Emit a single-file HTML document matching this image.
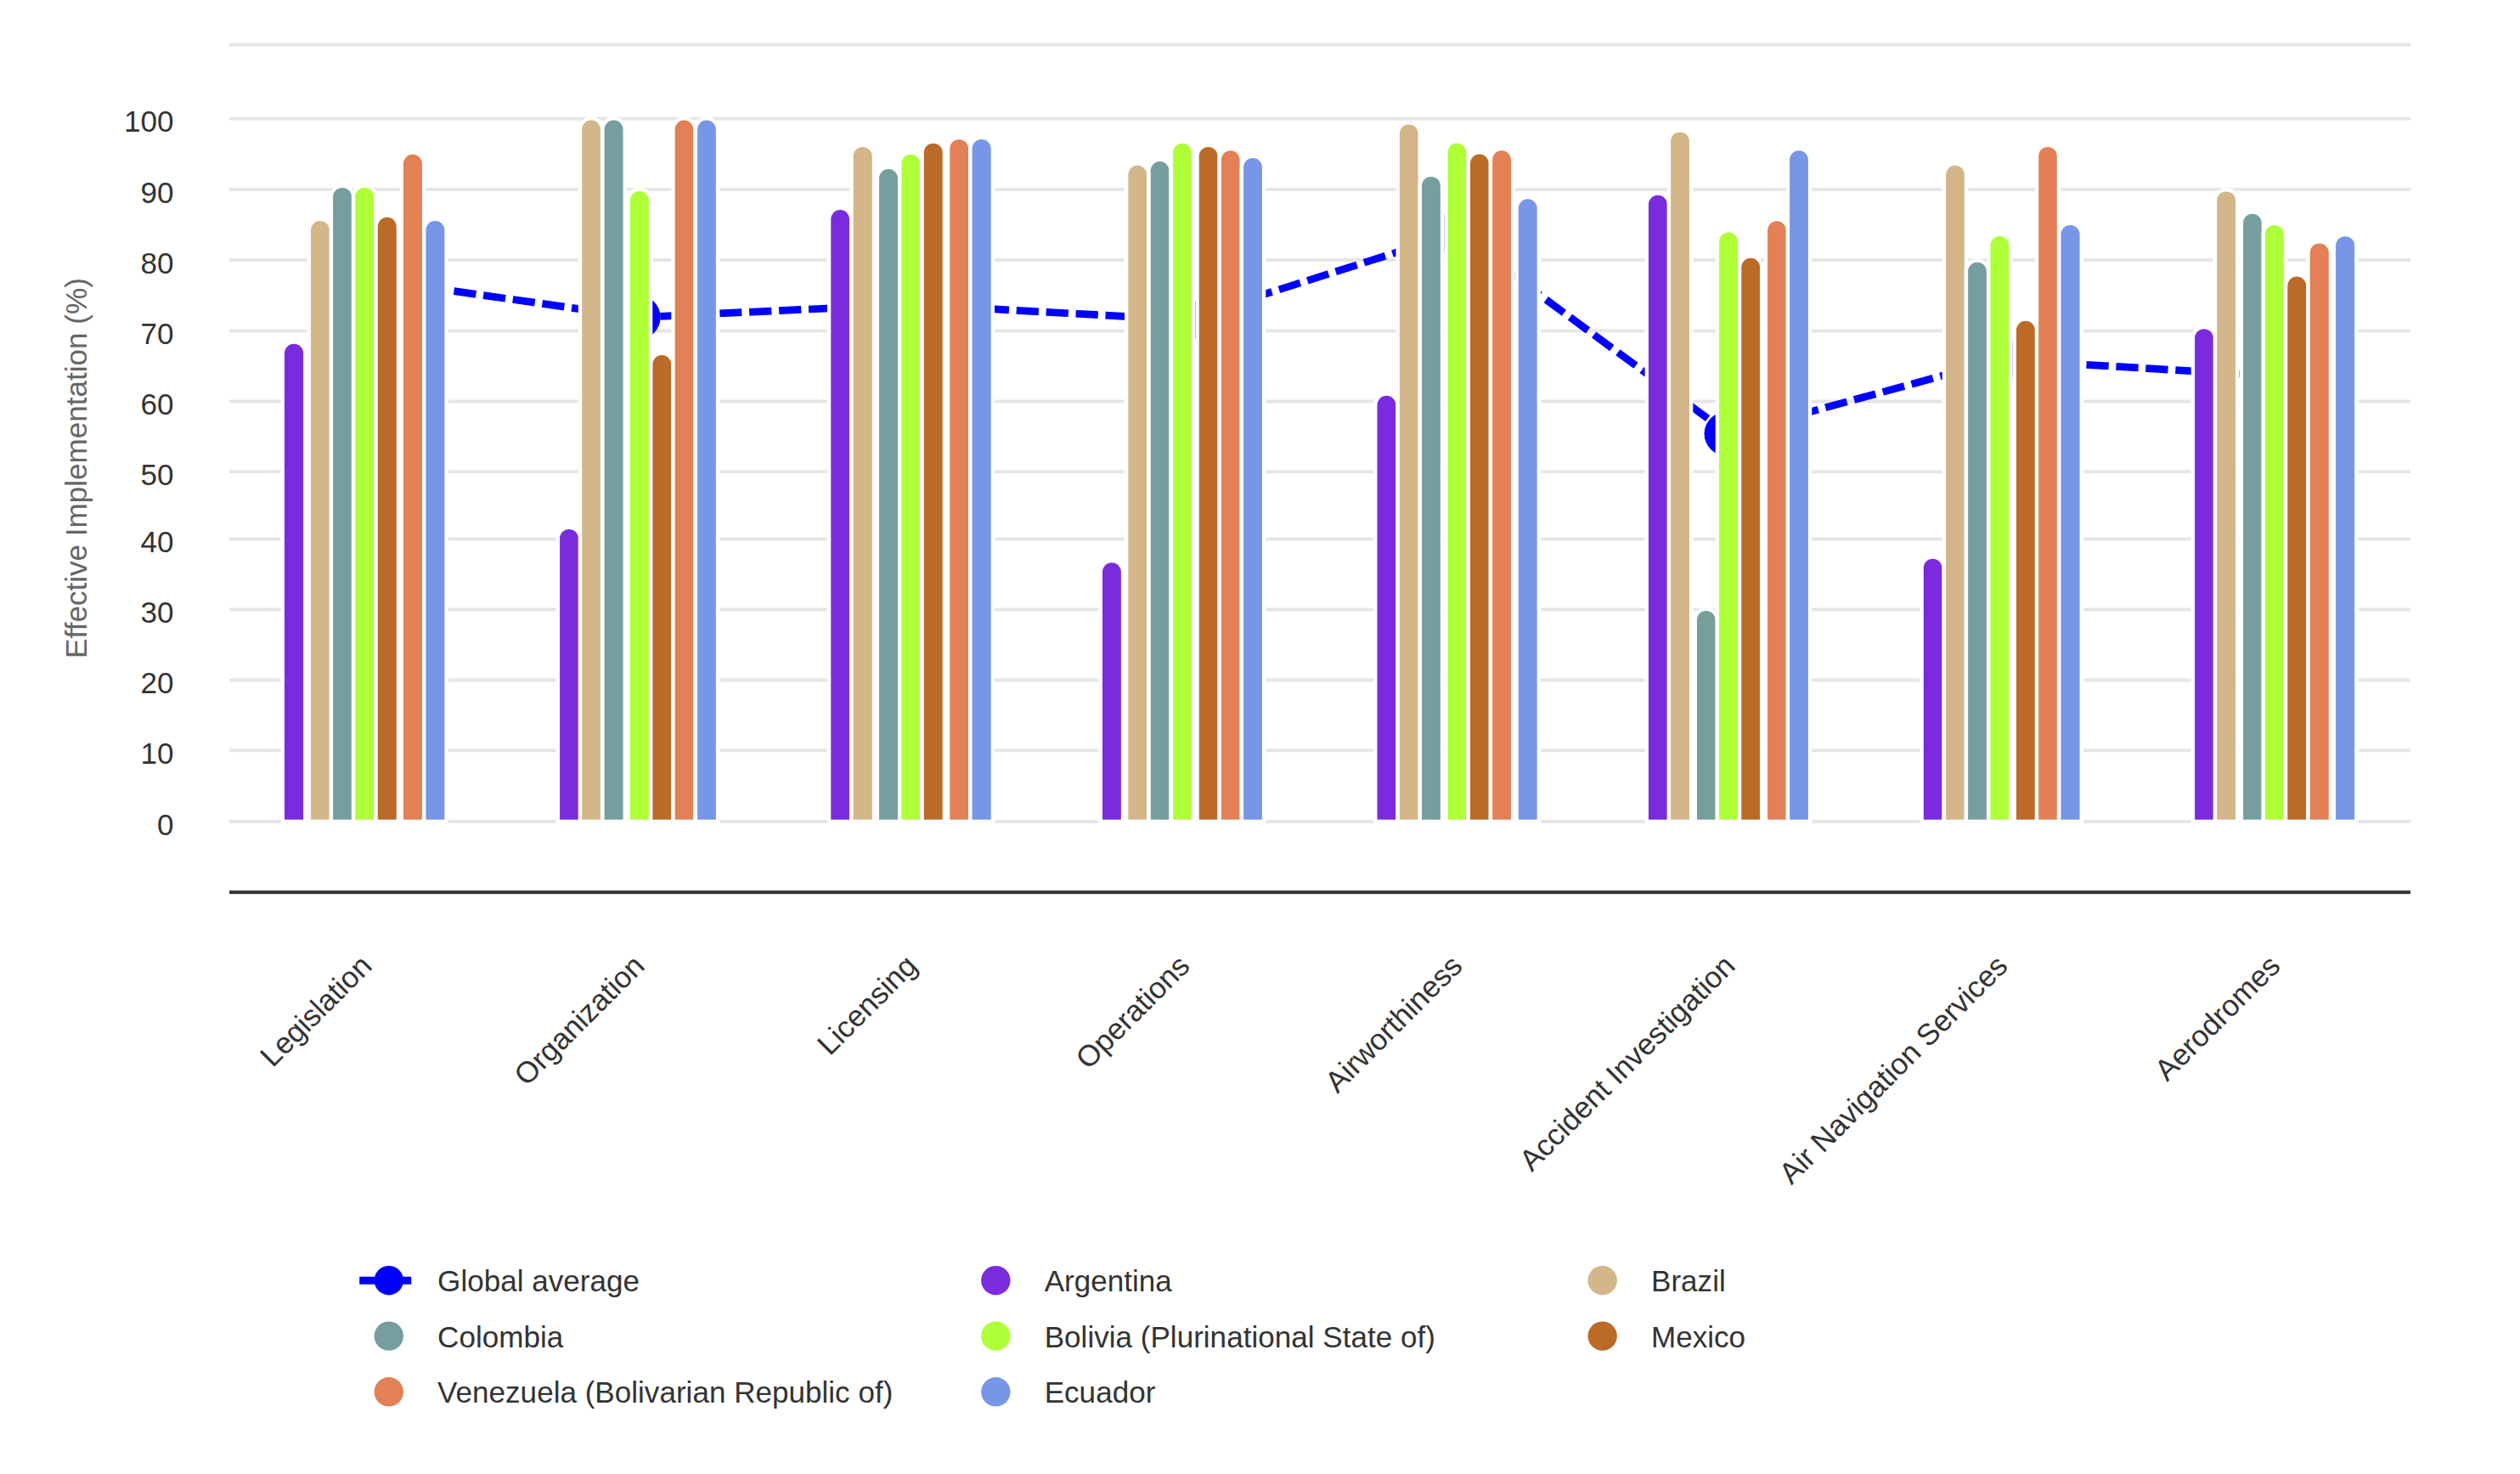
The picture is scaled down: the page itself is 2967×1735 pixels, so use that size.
<!DOCTYPE html><html><head><meta charset="utf-8"><style>html,body{margin:0;padding:0;background:#fff;}svg{display:block;}text{font-family:"Liberation Sans", sans-serif;}</style></head><body>
<svg width="2967" height="1735" viewBox="0 0 2967 1735">
<rect x="0" y="0" width="2967" height="1735" fill="#ffffff"/>
<path d="M270 52.4 H2838 M270 139.7 H2838 M270 223.1 H2838 M270 306.1 H2838 M270 389.5 H2838 M270 472.5 H2838 M270 555.3 H2838 M270 634.5 H2838 M270 717.5 H2838 M270 800.4 H2838 M270 883.3 H2838 M270 966.9 H2838" stroke="#e6e6e6" stroke-width="4" fill="none"/>
<path d="M270 1050.3 H2838" stroke="#333333" stroke-width="4" fill="none"/>
<path d="M430.5 327.9 L751.5 373.5 L1072.5 358.3 L1393.5 376.4 L1714.5 274.9 L2035.5 510.8 L2356.5 423.3 L2677.5 442.6" stroke="#0000ff" stroke-width="8.75" stroke-dasharray="26.25 8.75" fill="none" stroke-linecap="butt" stroke-linejoin="round"/>
<circle cx="430.5" cy="327.9" r="26.1" fill="#0000ff"/>
<circle cx="751.5" cy="373.5" r="26.1" fill="#0000ff"/>
<circle cx="1072.5" cy="358.3" r="26.1" fill="#0000ff"/>
<circle cx="1393.5" cy="376.4" r="26.1" fill="#0000ff"/>
<circle cx="1714.5" cy="274.9" r="26.1" fill="#0000ff"/>
<circle cx="2032.7" cy="510.6" r="26.1" fill="#0000ff"/>
<circle cx="2356.5" cy="423.3" r="26.1" fill="#0000ff"/>
<circle cx="2677.5" cy="442.6" r="26.1" fill="#0000ff"/>
<path d="M330.6 969.2 L330.6 415.85 A15.45 15.45 0 0 1 361.5 415.85 L361.5 969.2 Z" fill="#ffffff"/>
<path d="M335 964.8 L335 415.85 A11.05 11.05 0 0 1 357.1 415.85 L357.1 964.8 Z" fill="#7A2BDE"/>
<path d="M654.7 969.2 L654.7 633.8 A15.3 15.3 0 0 1 685.3 633.8 L685.3 969.2 Z" fill="#ffffff"/>
<path d="M659.1 964.8 L659.1 633.8 A10.9 10.9 0 0 1 680.9 633.8 L680.9 964.8 Z" fill="#7A2BDE"/>
<path d="M973.9 969.2 L973.9 257.95 A15.25 15.25 0 0 1 1004.4 257.95 L1004.4 969.2 Z" fill="#ffffff"/>
<path d="M978.3 964.8 L978.3 257.95 A10.85 10.85 0 0 1 1000 257.95 L1000 964.8 Z" fill="#7A2BDE"/>
<path d="M1293.6 969.2 L1293.6 673.25 A15.35 15.35 0 0 1 1324.3 673.25 L1324.3 969.2 Z" fill="#ffffff"/>
<path d="M1298 964.8 L1298 673.25 A10.95 10.95 0 0 1 1319.9 673.25 L1319.9 964.8 Z" fill="#7A2BDE"/>
<path d="M1617.1 969.2 L1617.1 476.75 A15.35 15.35 0 0 1 1647.8 476.75 L1647.8 969.2 Z" fill="#ffffff"/>
<path d="M1621.5 964.8 L1621.5 476.75 A10.95 10.95 0 0 1 1643.4 476.75 L1643.4 964.8 Z" fill="#7A2BDE"/>
<path d="M1936.6 969.2 L1936.6 240.65 A15.35 15.35 0 0 1 1967.3 240.65 L1967.3 969.2 Z" fill="#ffffff"/>
<path d="M1941 964.8 L1941 240.65 A10.95 10.95 0 0 1 1962.9 240.65 L1962.9 964.8 Z" fill="#7A2BDE"/>
<path d="M2260.4 969.2 L2260.4 668.4 A15.2 15.2 0 0 1 2290.8 668.4 L2290.8 969.2 Z" fill="#ffffff"/>
<path d="M2264.8 964.8 L2264.8 668.4 A10.8 10.8 0 0 1 2286.4 668.4 L2286.4 964.8 Z" fill="#7A2BDE"/>
<path d="M2579.7 969.2 L2579.7 398 A15.3 15.3 0 0 1 2610.3 398 L2610.3 969.2 Z" fill="#ffffff"/>
<path d="M2584.1 964.8 L2584.1 398 A10.9 10.9 0 0 1 2605.9 398 L2605.9 964.8 Z" fill="#7A2BDE"/>
<path d="M361.6 969.2 L361.6 271.05 A15.35 15.35 0 0 1 392.3 271.05 L392.3 969.2 Z" fill="#ffffff"/>
<path d="M366 964.8 L366 271.05 A10.95 10.95 0 0 1 387.9 271.05 L387.9 964.8 Z" fill="#D3B68A"/>
<path d="M680.8 969.2 L680.8 152.45 A15.25 15.25 0 0 1 711.3 152.45 L711.3 969.2 Z" fill="#ffffff"/>
<path d="M685.2 964.8 L685.2 152.45 A10.85 10.85 0 0 1 706.9 152.45 L706.9 964.8 Z" fill="#D3B68A"/>
<path d="M1000.3 969.2 L1000.3 183.95 A15.45 15.45 0 0 1 1031.2 183.95 L1031.2 969.2 Z" fill="#ffffff"/>
<path d="M1004.7 964.8 L1004.7 183.95 A11.05 11.05 0 0 1 1026.8 183.95 L1026.8 964.8 Z" fill="#D3B68A"/>
<path d="M1324 969.2 L1324 205.65 A15.25 15.25 0 0 1 1354.5 205.65 L1354.5 969.2 Z" fill="#ffffff"/>
<path d="M1328.4 964.8 L1328.4 205.65 A10.85 10.85 0 0 1 1350.1 205.65 L1350.1 964.8 Z" fill="#D3B68A"/>
<path d="M1643.5 969.2 L1643.5 157.25 A15.25 15.25 0 0 1 1674 157.25 L1674 969.2 Z" fill="#ffffff"/>
<path d="M1647.9 964.8 L1647.9 157.25 A10.85 10.85 0 0 1 1669.6 157.25 L1669.6 964.8 Z" fill="#D3B68A"/>
<path d="M1962.7 969.2 L1962.7 166.35 A15.35 15.35 0 0 1 1993.4 166.35 L1993.4 969.2 Z" fill="#ffffff"/>
<path d="M1967.1 964.8 L1967.1 166.35 A10.95 10.95 0 0 1 1989 166.35 L1989 964.8 Z" fill="#D3B68A"/>
<path d="M2286.7 969.2 L2286.7 205.65 A15.25 15.25 0 0 1 2317.2 205.65 L2317.2 969.2 Z" fill="#ffffff"/>
<path d="M2291.1 964.8 L2291.1 205.65 A10.85 10.85 0 0 1 2312.8 205.65 L2312.8 964.8 Z" fill="#D3B68A"/>
<path d="M2605.8 969.2 L2605.8 236.35 A15.35 15.35 0 0 1 2636.5 236.35 L2636.5 969.2 Z" fill="#ffffff"/>
<path d="M2610.2 964.8 L2610.2 236.35 A10.95 10.95 0 0 1 2632.1 236.35 L2632.1 964.8 Z" fill="#D3B68A"/>
<path d="M387.7 969.2 L387.7 231.85 A15.35 15.35 0 0 1 418.4 231.85 L418.4 969.2 Z" fill="#ffffff"/>
<path d="M392.1 964.8 L392.1 231.85 A10.95 10.95 0 0 1 414 231.85 L414 964.8 Z" fill="#769E9F"/>
<path d="M707.2 969.2 L707.2 152.6 A15.4 15.4 0 0 1 738 152.6 L738 969.2 Z" fill="#ffffff"/>
<path d="M711.6 964.8 L711.6 152.6 A11 11 0 0 1 733.6 152.6 L733.6 964.8 Z" fill="#769E9F"/>
<path d="M1030.7 969.2 L1030.7 210.05 A15.35 15.35 0 0 1 1061.4 210.05 L1061.4 969.2 Z" fill="#ffffff"/>
<path d="M1035.1 964.8 L1035.1 210.05 A10.95 10.95 0 0 1 1057 210.05 L1057 964.8 Z" fill="#769E9F"/>
<path d="M1350.4 969.2 L1350.4 200.9 A15.2 15.2 0 0 1 1380.8 200.9 L1380.8 969.2 Z" fill="#ffffff"/>
<path d="M1354.8 964.8 L1354.8 200.9 A10.8 10.8 0 0 1 1376.4 200.9 L1376.4 964.8 Z" fill="#769E9F"/>
<path d="M1669.6 969.2 L1669.6 218.85 A15.35 15.35 0 0 1 1700.3 218.85 L1700.3 969.2 Z" fill="#ffffff"/>
<path d="M1674 964.8 L1674 218.85 A10.95 10.95 0 0 1 1695.9 218.85 L1695.9 964.8 Z" fill="#769E9F"/>
<path d="M1993.6 969.2 L1993.6 729.7 A15.2 15.2 0 0 1 2024 729.7 L2024 969.2 Z" fill="#ffffff"/>
<path d="M1998 964.8 L1998 729.7 A10.8 10.8 0 0 1 2019.6 729.7 L2019.6 964.8 Z" fill="#769E9F"/>
<path d="M2312.7 969.2 L2312.7 319.5 A15.3 15.3 0 0 1 2343.3 319.5 L2343.3 969.2 Z" fill="#ffffff"/>
<path d="M2317.1 964.8 L2317.1 319.5 A10.9 10.9 0 0 1 2338.9 319.5 L2338.9 964.8 Z" fill="#769E9F"/>
<path d="M2636.7 969.2 L2636.7 262.4 A15.2 15.2 0 0 1 2667.1 262.4 L2667.1 969.2 Z" fill="#ffffff"/>
<path d="M2641.1 964.8 L2641.1 262.4 A10.8 10.8 0 0 1 2662.7 262.4 L2662.7 964.8 Z" fill="#769E9F"/>
<path d="M413.8 969.2 L413.8 231.85 A15.35 15.35 0 0 1 444.5 231.85 L444.5 969.2 Z" fill="#ffffff"/>
<path d="M418.2 964.8 L418.2 231.85 A10.95 10.95 0 0 1 440.1 231.85 L440.1 964.8 Z" fill="#AFFF38"/>
<path d="M737.6 969.2 L737.6 235.95 A15.35 15.35 0 0 1 768.3 235.95 L768.3 969.2 Z" fill="#ffffff"/>
<path d="M742 964.8 L742 235.95 A10.95 10.95 0 0 1 763.9 235.95 L763.9 964.8 Z" fill="#AFFF38"/>
<path d="M1057.1 969.2 L1057.1 192.5 A15.2 15.2 0 0 1 1087.5 192.5 L1087.5 969.2 Z" fill="#ffffff"/>
<path d="M1061.5 964.8 L1061.5 192.5 A10.8 10.8 0 0 1 1083.1 192.5 L1083.1 964.8 Z" fill="#AFFF38"/>
<path d="M1376.7 969.2 L1376.7 179.45 A15.25 15.25 0 0 1 1407.2 179.45 L1407.2 969.2 Z" fill="#ffffff"/>
<path d="M1381.1 964.8 L1381.1 179.45 A10.85 10.85 0 0 1 1402.8 179.45 L1402.8 964.8 Z" fill="#AFFF38"/>
<path d="M1700.3 969.2 L1700.3 179.4 A15.2 15.2 0 0 1 1730.7 179.4 L1730.7 969.2 Z" fill="#ffffff"/>
<path d="M1704.7 964.8 L1704.7 179.4 A10.8 10.8 0 0 1 1726.3 179.4 L1726.3 964.8 Z" fill="#AFFF38"/>
<path d="M2019.7 969.2 L2019.7 284.55 A15.35 15.35 0 0 1 2050.4 284.55 L2050.4 969.2 Z" fill="#ffffff"/>
<path d="M2024.1 964.8 L2024.1 284.55 A10.95 10.95 0 0 1 2046 284.55 L2046 964.8 Z" fill="#AFFF38"/>
<path d="M2339 969.2 L2339 289.05 A15.35 15.35 0 0 1 2369.7 289.05 L2369.7 969.2 Z" fill="#ffffff"/>
<path d="M2343.4 964.8 L2343.4 289.05 A10.95 10.95 0 0 1 2365.3 289.05 L2365.3 964.8 Z" fill="#AFFF38"/>
<path d="M2662.6 969.2 L2662.6 275.8 A15.3 15.3 0 0 1 2693.2 275.8 L2693.2 969.2 Z" fill="#ffffff"/>
<path d="M2667 964.8 L2667 275.8 A10.9 10.9 0 0 1 2688.8 275.8 L2688.8 964.8 Z" fill="#AFFF38"/>
<path d="M440.4 969.2 L440.4 266.77 A15.37 15.37 0 0 1 471.15 266.77 L471.15 969.2 Z" fill="#ffffff"/>
<path d="M444.8 964.8 L444.8 266.77 A10.97 10.97 0 0 1 466.75 266.77 L466.75 964.8 Z" fill="#BC6A27"/>
<path d="M764 969.2 L764 429 A15.3 15.3 0 0 1 794.6 429 L794.6 969.2 Z" fill="#ffffff"/>
<path d="M768.4 964.8 L768.4 429 A10.9 10.9 0 0 1 790.2 429 L790.2 964.8 Z" fill="#BC6A27"/>
<path d="M1083.4 969.2 L1083.4 179.55 A15.35 15.35 0 0 1 1114.1 179.55 L1114.1 969.2 Z" fill="#ffffff"/>
<path d="M1087.8 964.8 L1087.8 179.55 A10.95 10.95 0 0 1 1109.7 179.55 L1109.7 964.8 Z" fill="#BC6A27"/>
<path d="M1407.4 969.2 L1407.4 183.7 A15.2 15.2 0 0 1 1437.8 183.7 L1437.8 969.2 Z" fill="#ffffff"/>
<path d="M1411.8 964.8 L1411.8 183.7 A10.8 10.8 0 0 1 1433.4 183.7 L1433.4 964.8 Z" fill="#BC6A27"/>
<path d="M1726.6 969.2 L1726.6 192.35 A15.25 15.25 0 0 1 1757.1 192.35 L1757.1 969.2 Z" fill="#ffffff"/>
<path d="M1731 964.8 L1731 192.35 A10.85 10.85 0 0 1 1752.7 192.35 L1752.7 964.8 Z" fill="#BC6A27"/>
<path d="M2045.9 969.2 L2045.9 314.7 A15.3 15.3 0 0 1 2076.5 314.7 L2076.5 969.2 Z" fill="#ffffff"/>
<path d="M2050.3 964.8 L2050.3 314.7 A10.9 10.9 0 0 1 2072.1 314.7 L2072.1 964.8 Z" fill="#BC6A27"/>
<path d="M2369.6 969.2 L2369.6 388.75 A15.35 15.35 0 0 1 2400.3 388.75 L2400.3 969.2 Z" fill="#ffffff"/>
<path d="M2374 964.8 L2374 388.75 A10.95 10.95 0 0 1 2395.9 388.75 L2395.9 964.8 Z" fill="#BC6A27"/>
<path d="M2688.9 969.2 L2688.9 336.45 A15.35 15.35 0 0 1 2719.6 336.45 L2719.6 969.2 Z" fill="#ffffff"/>
<path d="M2693.3 964.8 L2693.3 336.45 A10.95 10.95 0 0 1 2715.2 336.45 L2715.2 964.8 Z" fill="#BC6A27"/>
<path d="M470.6 969.2 L470.6 192.65 A15.35 15.35 0 0 1 501.3 192.65 L501.3 969.2 Z" fill="#ffffff"/>
<path d="M475 964.8 L475 192.65 A10.95 10.95 0 0 1 496.9 192.65 L496.9 964.8 Z" fill="#E38055"/>
<path d="M790.3 969.2 L790.3 152.4 A15.2 15.2 0 0 1 820.7 152.4 L820.7 969.2 Z" fill="#ffffff"/>
<path d="M794.7 964.8 L794.7 152.4 A10.8 10.8 0 0 1 816.3 152.4 L816.3 964.8 Z" fill="#E38055"/>
<path d="M1113.9 969.2 L1113.9 175 A15.3 15.3 0 0 1 1144.5 175 L1144.5 969.2 Z" fill="#ffffff"/>
<path d="M1118.3 964.8 L1118.3 175 A10.9 10.9 0 0 1 1140.1 175 L1140.1 964.8 Z" fill="#E38055"/>
<path d="M1433.5 969.2 L1433.5 188.05 A15.25 15.25 0 0 1 1464 188.05 L1464 969.2 Z" fill="#ffffff"/>
<path d="M1437.9 964.8 L1437.9 188.05 A10.85 10.85 0 0 1 1459.6 188.05 L1459.6 964.8 Z" fill="#E38055"/>
<path d="M1752.8 969.2 L1752.8 188.1 A15.3 15.3 0 0 1 1783.4 188.1 L1783.4 969.2 Z" fill="#ffffff"/>
<path d="M1757.2 964.8 L1757.2 188.1 A10.9 10.9 0 0 1 1779 188.1 L1779 964.8 Z" fill="#E38055"/>
<path d="M2076.7 969.2 L2076.7 271.15 A15.25 15.25 0 0 1 2107.2 271.15 L2107.2 969.2 Z" fill="#ffffff"/>
<path d="M2081.1 964.8 L2081.1 271.15 A10.85 10.85 0 0 1 2102.8 271.15 L2102.8 964.8 Z" fill="#E38055"/>
<path d="M2395.8 969.2 L2395.8 183.7 A15.2 15.2 0 0 1 2426.2 183.7 L2426.2 969.2 Z" fill="#ffffff"/>
<path d="M2400.2 964.8 L2400.2 183.7 A10.8 10.8 0 0 1 2421.8 183.7 L2421.8 964.8 Z" fill="#E38055"/>
<path d="M2715.3 969.2 L2715.3 297.55 A15.45 15.45 0 0 1 2746.2 297.55 L2746.2 969.2 Z" fill="#ffffff"/>
<path d="M2719.7 964.8 L2719.7 297.55 A11.05 11.05 0 0 1 2741.8 297.55 L2741.8 964.8 Z" fill="#E38055"/>
<path d="M497 969.2 L497 271.1 A15.4 15.4 0 0 1 527.8 271.1 L527.8 969.2 Z" fill="#ffffff"/>
<path d="M501.4 964.8 L501.4 271.1 A11 11 0 0 1 523.4 271.1 L523.4 964.8 Z" fill="#7896E8"/>
<path d="M816.7 969.2 L816.7 152.5 A15.3 15.3 0 0 1 847.3 152.5 L847.3 969.2 Z" fill="#ffffff"/>
<path d="M821.1 964.8 L821.1 152.5 A10.9 10.9 0 0 1 842.9 152.5 L842.9 964.8 Z" fill="#7896E8"/>
<path d="M1140.2 969.2 L1140.2 175.15 A15.45 15.45 0 0 1 1171.1 175.15 L1171.1 969.2 Z" fill="#ffffff"/>
<path d="M1144.6 964.8 L1144.6 175.15 A11.05 11.05 0 0 1 1166.7 175.15 L1166.7 964.8 Z" fill="#7896E8"/>
<path d="M1459.7 969.2 L1459.7 196.9 A15.3 15.3 0 0 1 1490.3 196.9 L1490.3 969.2 Z" fill="#ffffff"/>
<path d="M1464.1 964.8 L1464.1 196.9 A10.9 10.9 0 0 1 1485.9 196.9 L1485.9 964.8 Z" fill="#7896E8"/>
<path d="M1783.4 969.2 L1783.4 245.15 A15.35 15.35 0 0 1 1814.1 245.15 L1814.1 969.2 Z" fill="#ffffff"/>
<path d="M1787.8 964.8 L1787.8 245.15 A10.95 10.95 0 0 1 1809.7 245.15 L1809.7 964.8 Z" fill="#7896E8"/>
<path d="M2102.7 969.2 L2102.7 188.1 A15.3 15.3 0 0 1 2133.3 188.1 L2133.3 969.2 Z" fill="#ffffff"/>
<path d="M2107.1 964.8 L2107.1 188.1 A10.9 10.9 0 0 1 2128.9 188.1 L2128.9 964.8 Z" fill="#7896E8"/>
<path d="M2422.1 969.2 L2422.1 275.95 A15.45 15.45 0 0 1 2453 275.95 L2453 969.2 Z" fill="#ffffff"/>
<path d="M2426.5 964.8 L2426.5 275.95 A11.05 11.05 0 0 1 2448.6 275.95 L2448.6 964.8 Z" fill="#7896E8"/>
<path d="M2745.7 969.2 L2745.7 289.15 A15.45 15.45 0 0 1 2776.6 289.15 L2776.6 969.2 Z" fill="#ffffff"/>
<path d="M2750.1 964.8 L2750.1 289.15 A11.05 11.05 0 0 1 2772.2 289.15 L2772.2 964.8 Z" fill="#7896E8"/>
<text x="204.5" y="155.4" font-size="35.1" fill="#333333" text-anchor="end">100</text>
<text x="204.5" y="238.8" font-size="35.1" fill="#333333" text-anchor="end">90</text>
<text x="204.5" y="321.8" font-size="35.1" fill="#333333" text-anchor="end">80</text>
<text x="204.5" y="405.2" font-size="35.1" fill="#333333" text-anchor="end">70</text>
<text x="204.5" y="488.2" font-size="35.1" fill="#333333" text-anchor="end">60</text>
<text x="204.5" y="571" font-size="35.1" fill="#333333" text-anchor="end">50</text>
<text x="204.5" y="650.2" font-size="35.1" fill="#333333" text-anchor="end">40</text>
<text x="204.5" y="733.2" font-size="35.1" fill="#333333" text-anchor="end">30</text>
<text x="204.5" y="816.1" font-size="35.1" fill="#333333" text-anchor="end">20</text>
<text x="204.5" y="899" font-size="35.1" fill="#333333" text-anchor="end">10</text>
<text x="204.5" y="982.6" font-size="35.1" fill="#333333" text-anchor="end">0</text>
<text transform="translate(102.3 551) rotate(-90)" x="0" y="0" font-size="35.1" fill="#666666" text-anchor="middle">Effective Implementation (%)</text>
<text transform="translate(439.7 1139) rotate(-45)" x="0" y="0" font-size="35.1" fill="#333333" text-anchor="end">Legislation</text>
<text transform="translate(760.7 1139) rotate(-45)" x="0" y="0" font-size="35.1" fill="#333333" text-anchor="end">Organization</text>
<text transform="translate(1081.7 1139) rotate(-45)" x="0" y="0" font-size="35.1" fill="#333333" text-anchor="end">Licensing</text>
<text transform="translate(1402.7 1139) rotate(-45)" x="0" y="0" font-size="35.1" fill="#333333" text-anchor="end">Operations</text>
<text transform="translate(1723.7 1139) rotate(-45)" x="0" y="0" font-size="35.1" fill="#333333" text-anchor="end">Airworthiness</text>
<text transform="translate(2044.7 1139) rotate(-45)" x="0" y="0" font-size="35.1" fill="#333333" text-anchor="end">Accident Investigation</text>
<text transform="translate(2365.7 1139) rotate(-45)" x="0" y="0" font-size="35.1" fill="#333333" text-anchor="end">Air Navigation Services</text>
<text transform="translate(2686.7 1139) rotate(-45)" x="0" y="0" font-size="35.1" fill="#333333" text-anchor="end">Aerodromes</text>
<path d="M423.2 1507.2 H484.2" stroke="#0000ff" stroke-width="8.9" fill="none"/>
<circle cx="457.8" cy="1507.2" r="17.2" fill="#0000ff"/>
<text x="515.1" y="1520.2" font-size="35.1" fill="#333333">Global average</text>
<circle cx="1172.4" cy="1507.2" r="17.2" fill="#7A2BDE"/>
<text x="1229.7" y="1520.2" font-size="35.1" fill="#333333">Argentina</text>
<circle cx="1886.7" cy="1507.2" r="17.2" fill="#D3B68A"/>
<text x="1944" y="1520.2" font-size="35.1" fill="#333333">Brazil</text>
<circle cx="457.8" cy="1572.6" r="17.2" fill="#769E9F"/>
<text x="515.1" y="1585.6" font-size="35.1" fill="#333333">Colombia</text>
<circle cx="1172.4" cy="1572.6" r="17.2" fill="#AFFF38"/>
<text x="1229.7" y="1585.6" font-size="35.1" fill="#333333">Bolivia (Plurinational State of)</text>
<circle cx="1886.7" cy="1572.6" r="17.2" fill="#BC6A27"/>
<text x="1944" y="1585.6" font-size="35.1" fill="#333333">Mexico</text>
<circle cx="457.8" cy="1638.3" r="17.2" fill="#E38055"/>
<text x="515.1" y="1651.3" font-size="35.1" fill="#333333">Venezuela (Bolivarian Republic of)</text>
<circle cx="1172.4" cy="1638.3" r="17.2" fill="#7896E8"/>
<text x="1229.7" y="1651.3" font-size="35.1" fill="#333333">Ecuador</text>
</svg></body></html>
